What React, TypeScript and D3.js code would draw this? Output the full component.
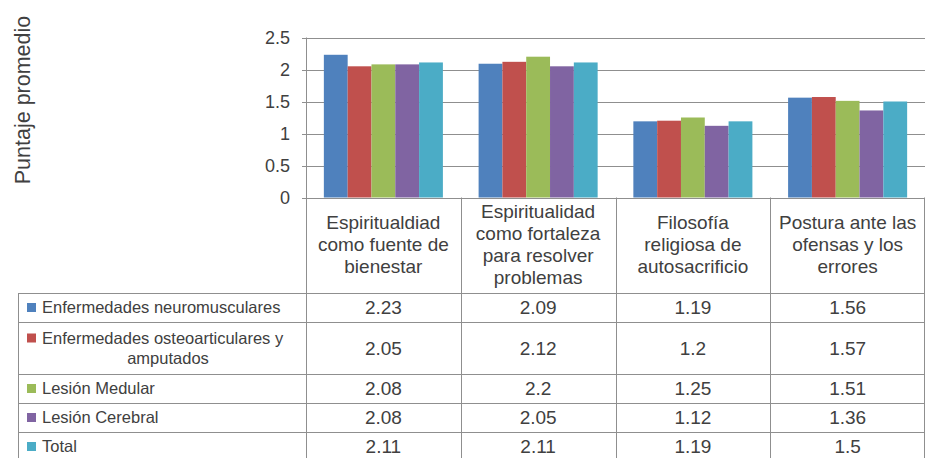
import React from 'react';
import * as d3 from 'd3';

// --- data ---
const categories = [
  'Espiritualdiad como fuente de bienestar',
  'Espiritualidad como fortaleza para resolver problemas',
  'Filosofía religiosa de autosacrificio',
  'Postura ante las ofensas y los errores',
];
const categoryLines = [
  ['Espiritualdiad', 'como fuente de', 'bienestar'],
  ['Espiritualidad', 'como fortaleza', 'para resolver', 'problemas'],
  ['Filosofía', 'religiosa de', 'autosacrificio'],
  ['Postura ante las', 'ofensas y los', 'errores'],
];
const seriesNames = [
  'Enfermedades neuromusculares',
  'Enfermedades osteoarticulares y amputados',
  'Lesión Medular',
  'Lesión Cerebral',
  'Total',
];
const seriesLines = [
  ['Enfermedades neuromusculares'],
  ['Enfermedades osteoarticulares y', 'amputados'],
  ['Lesión Medular'],
  ['Lesión Cerebral'],
  ['Total'],
];
const neuromusculares = [2.23, 2.09, 1.19, 1.56];
const osteoarticulares = [2.05, 2.12, 1.2, 1.57];
const lesionMedular = [2.08, 2.2, 1.25, 1.51];
const lesionCerebral = [2.08, 2.05, 1.12, 1.36];
const total = [2.11, 2.11, 1.19, 1.5];
const seriesValues = [neuromusculares, osteoarticulares, lesionMedular, lesionCerebral, total];
const seriesColors = ['#4F81BD', '#C0504D', '#9BBB59', '#8064A2', '#4BACC6'];
const yTicks = [0, 0.5, 1, 1.5, 2, 2.5];
const yTitle = 'Puntaje promedio';

// --- layout ---
const W = 926;
const H = 458;
const plotLeft = 306;
const plotRight = 925;
const plotTop = 37.5;
const plotBottom = 197.5;
const tableLeft = 18;
const headerBottom = 293;
const rowHeights = [29, 52, 29, 29, 29];
const lineColor = '#8f8f8f';
const textColor = '#404040';
const font = '"Liberation Sans", Arial, sans-serif';

export default function App() {
  const x0 = d3.scaleBand<string>().domain(categories).range([plotLeft, plotRight]).padding(0);
  const x1 = d3
    .scaleBand<string>()
    .domain(seriesNames)
    .range([0, x0.bandwidth()])
    .paddingInner(0)
    .paddingOuter(0.75);
  const y = d3.scaleLinear().domain([0, 2.5]).range([plotBottom, plotTop]);

  const rowTops: number[] = [];
  let acc = headerBottom;
  rowHeights.forEach(h => {
    rowTops.push(acc);
    acc += h;
  });
  const tableBottom = acc;

  return (
    <svg
      width={W}
      height={H}
      viewBox={`0 0 ${W} ${H}`}
      style={{ position: 'absolute', left: 0, top: 0, background: '#fff' }}
      fontFamily={font}
    >
      <rect width={W} height={H} fill="#fff" />

      {/* y axis title */}
      <text
        transform={`translate(22,100) rotate(-90)`}
        textAnchor="middle"
        dy="0.35em"
        fontSize={21.5}
        fill={textColor}
      >
        {yTitle}
      </text>

      {/* gridlines + ticks */}
      {yTicks.map(t => (
        <g key={t}>
          <line
            x1={plotLeft - 4}
            x2={plotRight}
            y1={Math.round(y(t)) + 0.5}
            y2={Math.round(y(t)) + 0.5}
            stroke={lineColor}
          />
          <text
            x={290}
            y={y(t)}
            dy="0.35em"
            textAnchor="end"
            fontSize={18}
            fill={textColor}
          >
            {d3.format('~g')(t)}
          </text>
        </g>
      ))}

      {/* bars */}
      {categories.map((c, ci) => (
        <g key={c} transform={`translate(${x0(c)},0)`}>
          {seriesNames.map((s, si) => (
            <rect
              key={s}
              x={x1(s)}
              y={y(seriesValues[si][ci])}
              width={x1.bandwidth()}
              height={y(0) - y(seriesValues[si][ci])}
              fill={seriesColors[si]}
            />
          ))}
        </g>
      ))}

      {/* y axis line */}
      <line x1={plotLeft + 0.5} x2={plotLeft + 0.5} y1={plotTop} y2={tableBottom} stroke={lineColor} />

      {/* data table: column separators */}
      {categories.slice(1).map(c => (
        <line
          key={c}
          x1={Math.round(x0(c)!) + 0.5}
          x2={Math.round(x0(c)!) + 0.5}
          y1={plotBottom}
          y2={tableBottom}
          stroke={lineColor}
        />
      ))}
      <line x1={plotRight - 0.5} x2={plotRight - 0.5} y1={plotBottom} y2={tableBottom} stroke={lineColor} />
      <line x1={tableLeft + 0.5} x2={tableLeft + 0.5} y1={headerBottom} y2={tableBottom} stroke={lineColor} />

      {/* header labels */}
      {categories.map((c, ci) => {
        const lines = categoryLines[ci];
        const lh = 22;
        const cy = (plotBottom + headerBottom) / 2 - 1;
        const start = cy - ((lines.length - 1) * lh) / 2;
        return (
          <text
            key={c}
            x={x0(c)! + x0.bandwidth() / 2}
            textAnchor="middle"
            fontSize={19}
            fill={textColor}
          >
            {lines.map((l, li) => (
              <tspan key={li} x={x0(c)! + x0.bandwidth() / 2} y={start + li * lh} dy="0.35em">
                {l}
              </tspan>
            ))}
          </text>
        );
      })}

      {/* rows */}
      {seriesNames.map((s, si) => {
        const top = rowTops[si];
        const h = rowHeights[si];
        const cy = top + h / 2;
        const lines = seriesLines[si];
        const lh = 20;
        const start = cy - ((lines.length - 1) * lh) / 2;
        return (
          <g key={s}>
            <line
              x1={tableLeft}
              x2={plotRight}
              y1={Math.round(top) + 0.5}
              y2={Math.round(top) + 0.5}
              stroke={lineColor}
            />
            <rect x={27} y={start - 4.5} width={9} height={9} fill={seriesColors[si]} />
            {lines.map((l, li) => (
              <text
                key={li}
                x={li === 0 ? 42 : 168}
                y={start + li * lh}
                dy="0.35em"
                textAnchor={li === 0 ? 'start' : 'middle'}
                fontSize={16.5}
                fill={textColor}
              >
                {l}
              </text>
            ))}
            {categories.map((c, ci) => (
              <text
                key={c}
                x={x0(c)! + x0.bandwidth() / 2}
                y={cy}
                dy="0.35em"
                textAnchor="middle"
                fontSize={19}
                fill={textColor}
              >
                {String(seriesValues[si][ci])}
              </text>
            ))}
          </g>
        );
      })}
      <line x1={tableLeft} x2={plotRight} y1={tableBottom + 0.5} y2={tableBottom + 0.5} stroke={lineColor} />
    </svg>
  );
}
